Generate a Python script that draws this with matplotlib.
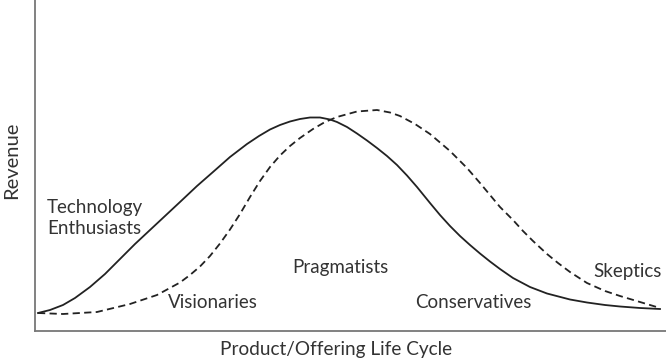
import matplotlib
matplotlib.use("Agg")
import matplotlib.pyplot as plt

# life cycle position (left to right) and revenue
early_x = [3, 15, 28, 40, 55, 70, 85, 100, 115, 130, 145, 162, 178, 195, 212,
           224, 235, 245, 255, 265, 275, 285, 295, 302, 312, 322, 332, 342,
           352, 362, 372, 382, 395, 405, 415, 425, 435, 445, 455, 465, 478,
           495, 512, 535, 552, 570, 585, 605, 625]
early_y = [18, 21, 26, 33, 44, 57, 72, 87, 101, 115, 129, 145, 159, 174, 187,
           195, 201.5, 206, 209.5, 212, 213.5, 213.5, 211.5, 209, 204, 197.5,
           190.5, 183, 175, 166, 155.5, 144, 128, 116, 105, 95, 86, 77.5,
           69.5, 62, 53, 44, 37.5, 31.5, 28.5, 26, 24.5, 23, 22]

late_x = [3, 28, 62, 95, 122, 145, 155, 165, 175, 185, 195, 205, 215, 225,
          235, 245, 255, 265, 278, 290, 302, 322, 342, 355, 365, 380, 395,
          415, 432, 445, 455, 465, 478, 488, 498, 512, 523, 535, 552, 570,
          585, 605, 625]
late_y = [18, 17, 19, 27, 36, 48.5, 56, 64.5, 75, 87.5, 101.5, 117, 134, 150,
          164, 175.5, 185, 193, 202, 209, 214, 219.5, 221, 218.5, 215, 207,
          197, 180, 163, 148, 136, 124, 111, 100, 90, 77, 68, 59, 48, 40,
          35, 29, 23]

segments = ["Technology\nEnthusiasts", "Visionaries", "Pragmatists",
            "Conservatives", "Skeptics"]

plt.rcParams['font.family'] = ['Lato', 'DejaVu Sans']
text_color = '#333333'

fig = plt.figure(figsize=(6.66, 3.62), dpi=100)
ax = fig.add_axes([35 / 666, 31 / 362, 631 / 666, 331 / 362])

ax.plot(early_x, early_y, color='#222222', lw=1.3, solid_joinstyle='round')
ax.plot(late_x, late_y, color='#222222', lw=1.3, dashes=(4, 2.4))

ax.set_xlim(0, 631)
ax.set_ylim(0, 331)
ax.set_xticks([])
ax.set_yticks([])
for side in ['top', 'right']:
    ax.spines[side].set_visible(False)
for side in ['left', 'bottom']:
    ax.spines[side].set_color('#777777')
    ax.spines[side].set_linewidth(1.3)

# segment labels
label_pos = [(12, 113), (133, 29), (257, 63), (380, 28), (558, 59)]
for name, (lx, ly) in zip(segments, label_pos):
    ax.text(lx, ly, name, fontsize=13.5, color=text_color,
            ha='left', va='center', linespacing=1.3)

fig.text(12 / 666, 1 - 160 / 362, 'Revenue', rotation=90, fontsize=14.5,
         color=text_color, ha='center', va='center')
fig.text(336 / 666, 1 - 350 / 362, 'Product/Offering Life Cycle',
         fontsize=13.7, color=text_color, ha='center', va='center')

fig.savefig('out.png', dpi=100)
